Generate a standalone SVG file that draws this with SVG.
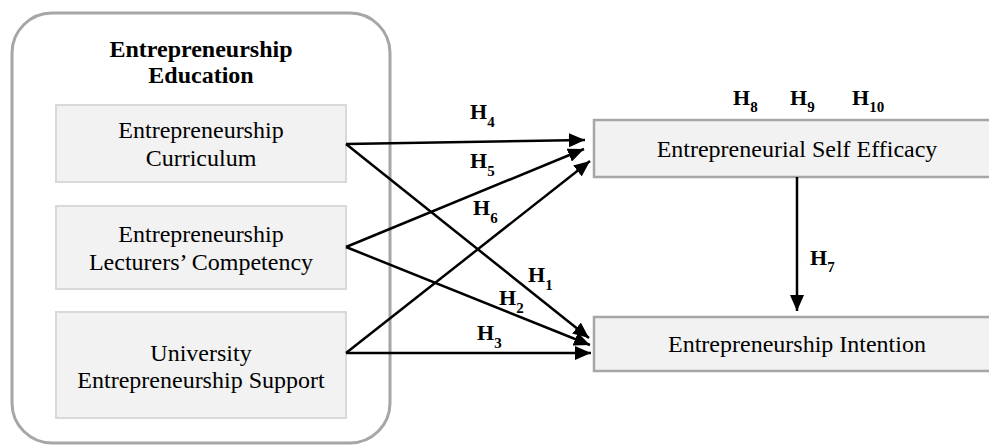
<svg xmlns="http://www.w3.org/2000/svg" width="989" height="446" viewBox="0 0 989 446">
<style>
.t{font-family:"Liberation Serif","Times New Roman",serif;font-size:24px;fill:#000;text-anchor:middle}
.b{font-weight:bold}
.h{font-family:"Liberation Serif","Times New Roman",serif;font-weight:bold;font-size:22px;fill:#000}
.s{font-size:15px}
.inner{fill:#f2f2f2;stroke:#d9d9d9;stroke-width:2}
.outer{fill:#f2f2f2;stroke:#a6a6a6;stroke-width:2.5}
.c{stroke:#000;stroke-width:2.5;fill:none;marker-end:url(#arr)}
</style>
<defs>
<marker id="arr" markerUnits="userSpaceOnUse" markerWidth="17" markerHeight="14" refX="16" refY="7" orient="auto">
<path d="M0,0 L16,7 L0,14 z" fill="#000"/>
</marker>
</defs>
<g id="education">
<rect x="12" y="13" width="378" height="430" rx="40" ry="40" fill="#fff" stroke="#a6a6a6" stroke-width="3"/>
<text class="t b" x="201" y="57">Entrepreneurship</text>
<text class="t b" x="201" y="83">Education</text>
</g>
<g id="curriculum">
<rect class="inner" x="56" y="105" width="290" height="77"/>
<text class="t" x="201" y="138">Entrepreneurship</text>
<text class="t" x="201" y="166">Curriculum</text>
</g>
<g id="competency">
<rect class="inner" x="56" y="206" width="290" height="83"/>
<text class="t" x="201" y="242">Entrepreneurship</text>
<text class="t" x="201" y="270">Lecturers’ Competency</text>
</g>
<g id="support">
<rect class="inner" x="56" y="312" width="290" height="106"/>
<text class="t" x="201" y="361">University</text>
<text class="t" x="201" y="388">Entrepreneurship Support</text>
</g>
<g id="selfefficacy">
<rect class="outer" x="594" y="120" width="420" height="57"/>
<text class="t" x="797" y="157">Entrepreneurial Self Efficacy</text>
</g>
<g id="intention">
<rect class="outer" x="594" y="317" width="420" height="54"/>
<text class="t" x="797" y="352">Entrepreneurship Intention</text>
</g>
<g id="connectors">
<line class="c" x1="346" y1="144" x2="585" y2="140"/>
<line class="c" x1="346" y1="144" x2="589" y2="338"/>
<line class="c" x1="346" y1="247" x2="584" y2="149"/>
<line class="c" x1="346" y1="247" x2="590" y2="345"/>
<line class="c" x1="346" y1="353" x2="590" y2="161"/>
<line class="c" x1="346" y1="353" x2="591" y2="353"/>
<line class="c" x1="797" y1="177" x2="797" y2="311"/>
</g>
<g id="labels">
<text class="h" x="470" y="119">H<tspan class="s" dy="8">4</tspan></text>
<text class="h" x="470" y="168">H<tspan class="s" dy="8">5</tspan></text>
<text class="h" x="473" y="215">H<tspan class="s" dy="8">6</tspan></text>
<text class="h" x="528" y="282">H<tspan class="s" dy="8">1</tspan></text>
<text class="h" x="499" y="305">H<tspan class="s" dy="8">2</tspan></text>
<text class="h" x="477" y="340">H<tspan class="s" dy="8">3</tspan></text>
<text class="h" x="810" y="265">H<tspan class="s" dy="7">7</tspan></text>
<text class="h" x="733" y="105">H<tspan class="s" dy="7">8</tspan></text>
<text class="h" x="790" y="105">H<tspan class="s" dy="7">9</tspan></text>
<text class="h" x="852" y="105">H<tspan class="s" dy="7">10</tspan></text>
</g>
</svg>
